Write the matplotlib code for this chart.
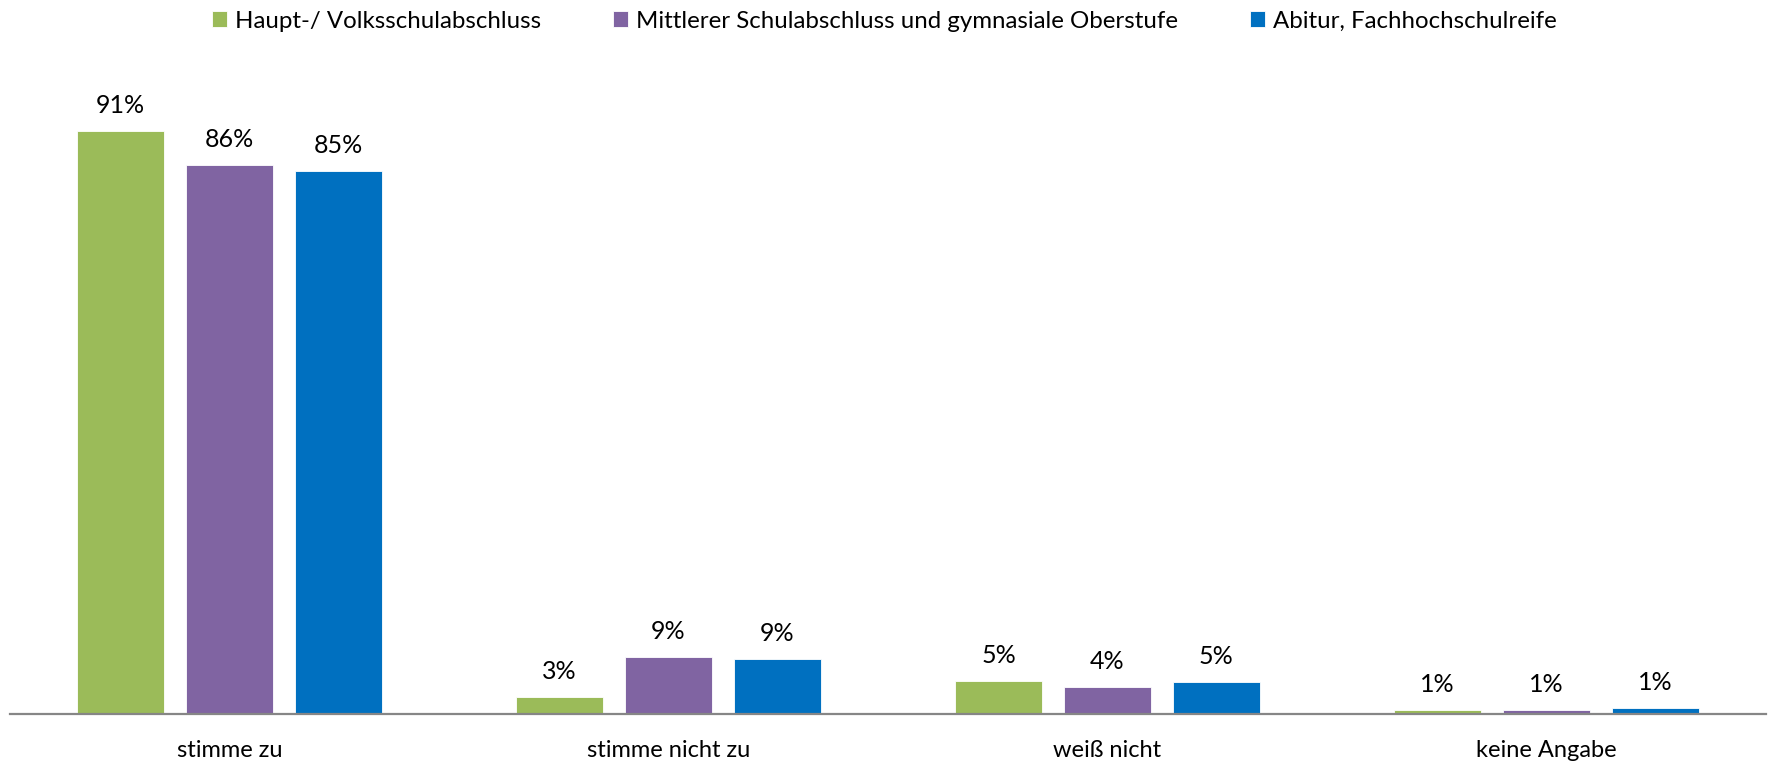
import matplotlib
matplotlib.use("Agg")
import matplotlib.pyplot as plt
import numpy as np

plt.rcParams['font.family'] = ['Lato', 'DejaVu Sans']

categories = ['stimme zu', 'stimme nicht zu', 'weiß nicht', 'keine Angabe']
groups = ['Haupt-/ Volksschulabschluss',
          'Mittlerer Schulabschluss und gymnasiale Oberstufe',
          'Abitur, Fachhochschulreife']
haupt = [90.9, 2.6, 5.1, 0.6]
mittel = [85.7, 8.9, 4.2, 0.6]
abitur = [84.7, 8.6, 5.0, 0.9]
colors = ['#9BBB59', '#8064A2', '#0070C0']

fig = plt.figure(figsize=(17.69, 7.64), dpi=100)
ax = fig.add_axes([10 / 1769, 50 / 764, 1756 / 1769, 654 / 764])

x = np.arange(len(categories))
step = 0.248
width = 0.198
for i, (vals, name, col) in enumerate(zip([haupt, mittel, abitur], groups, colors)):
    bars = ax.bar(x + (i - 1) * step, vals, width, color=col, label=name,
                  edgecolor='white', linewidth=0.6)
    ax.bar_label(bars, labels=[f'{v:.0f}%' for v in vals], padding=10,
                 fontsize=18, color='#000000')

ax.set_xlim(-0.5, 3.5)
ax.set_ylim(0, 102)
ax.set_xticks(x)
ax.set_xticklabels(categories, fontsize=17)
ax.tick_params(axis='x', length=0, pad=19)
ax.set_yticks([])
for side in ['top', 'right', 'left']:
    ax.spines[side].set_visible(False)
ax.spines['bottom'].set_color('#868686')
ax.spines['bottom'].set_linewidth(1.6)

fig.legend(loc='center', bbox_to_anchor=(0.5, 1 - 21 / 764), ncol=3,
           frameon=False, fontsize=17.3, handlelength=0.62, handleheight=0.62,
           handletextpad=0.33, columnspacing=3.0)

fig.savefig('out.png', dpi=100)
